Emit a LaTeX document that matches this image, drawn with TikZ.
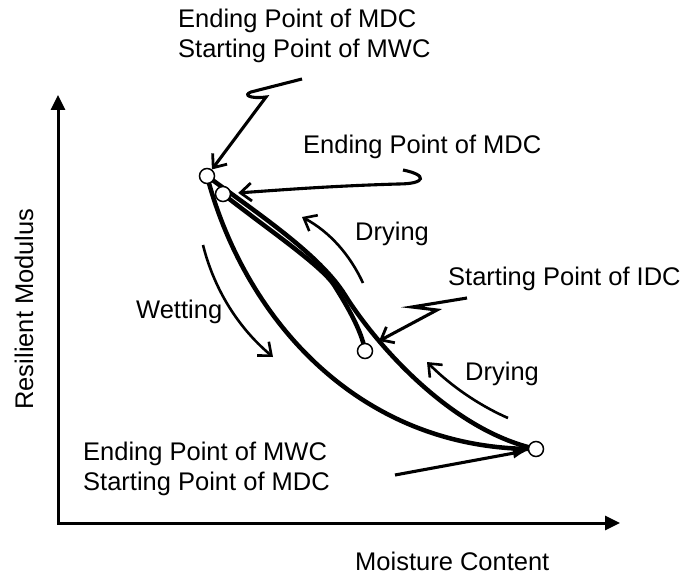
\documentclass[tikz,border=0pt]{standalone}
\usepackage{fontspec}
\setmainfont{Liberation Sans}
\usetikzlibrary{arrows.meta}
\begin{document}
\begin{tikzpicture}[x=1pt,y=-1pt,
  lbl/.style={font=\fontsize{25.5}{30}\selectfont, inner sep=0pt, anchor=base west},
  axis/.style={line width=3pt},
  curve/.style={line width=4.5pt, line cap=round},
  pointer/.style={line width=3.1pt, line join=miter, -{Straight Barb[length=11pt,width=18pt,line width=2.8pt]}},
  process/.style={line width=2.6pt, -{Straight Barb[length=11pt,width=18pt,line width=2.6pt]}},
  ptcircle/.style={circle, draw, fill=white, minimum size=15pt, inner sep=0pt, line width=1.5pt}]
\useasboundingbox (0,0) rectangle (682,575);

% axes
\coordinate (O) at (58,523);
\coordinate (ytip) at (58,95);
\coordinate (xtip) at (620,523);
\draw[axis, {Triangle[length=15pt,width=14pt]}-{Triangle[length=15pt,width=14pt]}] (ytip) -- (O) -- (xtip);
\node[lbl, anchor=base, rotate=90] (ylab) at (33,309) {Resilient Modulus};
\node[lbl] (xlab) at (355,570) {Moisture Content};

% point positions
\coordinate (pA) at (207,176);
\coordinate (pB) at (223,194);
\coordinate (pC) at (365,351);
\coordinate (pD) at (536,449);
\coordinate (pM) at (345,295);
\coordinate (pN) at (334,285);

% main wetting curve (MWC)
\draw[curve] (pA) .. controls (245,320) and (360,450) .. (pD);
% main drying curve (MDC)
\draw[curve] (pA) .. controls (260,215) and (320,255) .. (pM)
                  .. controls (375,343) and (450,430) .. (pD);
% intermediate drying curve (IDC)
\draw[curve] (pC) .. controls (362,330) and (344,301) .. (pN)
                  .. controls (321,265) and (262,225) .. (pB);

% points
\node[ptcircle] (A) at (pA) {};
\node[ptcircle] (B) at (pB) {};
\node[ptcircle] (C) at (pC) {};
\node[ptcircle] (D) at (pD) {};

% labels
\node[lbl] (t1a) at (178,28) {Ending Point of MDC};
\node[lbl] (t1b) at (178,58) {Starting Point of MWC};
\node[lbl] (t2) at (303,153) {Ending Point of MDC};
\node[lbl] (t3) at (355,240) {Drying};
\node[lbl] (t4) at (448,285) {Starting Point of IDC};
\node[lbl] (t5) at (465,380) {Drying};
\node[lbl] (t6) at (136,318) {Wetting};
\node[lbl] (t7a) at (83,460) {Ending Point of MWC};
\node[lbl] (t7b) at (83,490) {Starting Point of MDC};

% pointer arrows
\coordinate (s1) at (302,79);
\draw[pointer] (s1) -- (251,92) .. controls (243,95) and (250,99) .. (266,97) -- (A);
\coordinate (s2) at (403,170);
\draw[pointer, shorten >=7pt] (s2) .. controls (428,175) and (426,184) .. (398,184)
   .. controls (330,186) and (280,190) .. (B);
\coordinate (s3) at (467,298);
\coordinate (idcpt) at (379,341);
\draw[pointer] (s3) -- (412,307) -- (437,310) -- (idcpt);
\coordinate (s4) at (395,475);
\draw[line width=3.1pt, -{Latex[length=15pt,width=11pt]}] (s4) -- (D);

% process arrows
\coordinate (w0) at (203,245);
\coordinate (w1) at (273,357);
\draw[process] (w0) .. controls (213,285) and (235,325) .. (w1);
\coordinate (d0) at (363,283);
\coordinate (d1) at (302,217);
\draw[process] (d0) .. controls (350,255) and (330,232) .. (d1);
\coordinate (e0) at (508,418);
\coordinate (e1) at (427,362);
\draw[process] (e0) .. controls (485,408) and (455,390) .. (e1);
\end{tikzpicture}
\end{document}
